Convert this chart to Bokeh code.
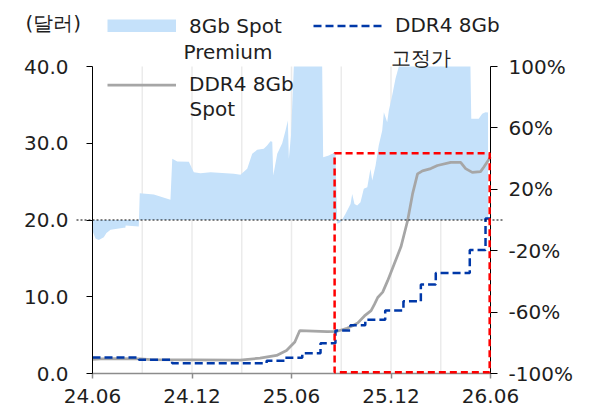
from bokeh.plotting import figure
from bokeh.models import (Range1d, LinearAxis, FixedTicker, BoxAnnotation,
                          Legend, LegendItem, Label)
from bokeh.embed import file_html
from bokeh.resources import INLINE

# ---------------- data (x = months since 2024-06) ----------------
premium_months = [0.0, 0.18, 0.38, 0.68, 0.84, 1.09, 1.49, 1.89, 1.98, 2.0, 2.79, 2.85, 3.70, 4.70,
                  4.81, 5.11, 5.81, 6.11, 6.51, 7.12, 8.52, 8.92, 9.33, 9.63, 9.93, 10.33, 10.53,
                  10.73, 10.84, 10.90, 11.14, 11.44, 11.64, 11.78, 11.84, 11.97, 12.14, 12.6, 13.2,
                  13.85, 13.91, 14.25, 14.45, 14.65, 14.76, 14.96, 15.26, 15.56, 15.66, 15.80, 15.96,
                  16.16, 16.36, 16.57, 16.76, 16.87, 17.07, 17.26, 17.47, 17.57, 17.77, 17.87, 18.07,
                  18.27, 18.47, 19.2, 20.0, 21.0, 22.0, 22.79, 22.84, 23.29, 23.50, 23.70, 23.85]
premium_pct = [-7, -12, -13, -11.2, -8.5, -6.4, -5.7, -5.1, -5.1, -3.6, -4.2, 17.5, 16.6, 13.2,
               39.9, 38.1, 38.0, 31.1, 30.5, 31.1, 30.1, 29.4, 33.4, 43.1, 45.7, 46.4, 48.5,
               51.3, 51.0, 29.0, 43.1, 50.0, 58.3, 64.8, 39.9, 55.0, 115, 130, 125,
               120, 40.9, 42.0, 43.1, 43.3, -2.5, -1.4, 4.0, 10.5, 17.0, 10.5, 9.4,
               11.6, 20.3, 21.4, 33.3, 25.7, 35.5, 48.5, 58.3, 70.2, 63.7, 71.3, 81.1,
               92.0, 115, 140, 160, 150, 135, 120, 65.9, 65.9, 69.2, 70.2, 70.0]

spot_months = [0.0, 0.5, 1.5, 2.9, 3.5, 6.0, 8.9, 10.1, 11.1, 11.7, 12.2, 12.5, 14.15, 14.75,
               15.35, 15.75, 16.0, 16.4, 16.8, 17.0, 17.2, 17.5, 17.8, 18.2, 18.6, 19.0, 19.3,
               19.6, 19.9, 20.4, 20.8, 21.6, 22.2, 22.5, 22.9, 23.4, 23.6, 24.0]
spot_usd = [1.85, 1.9, 1.95, 1.9, 1.8, 1.78, 1.75, 2.0, 2.35, 3.0, 4.1, 5.6, 5.45, 5.5,
            5.9, 6.3, 6.6, 7.5, 8.2, 9.0, 9.9, 10.6, 12.1, 14.3, 16.5, 19.9, 23.4,
            26.0, 26.4, 26.7, 27.1, 27.5, 27.5, 26.7, 26.2, 26.3, 26.9, 28.2]

fixed_months = [0.0, 2.8, 4.8, 10.5, 11.6, 12.65, 13.75, 14.65, 15.55, 16.45, 17.65, 18.75,
                19.8, 20.7, 22.75, 23.7, 24.0]
fixed_usd = [2.1, 1.78, 1.35, 1.65, 2.05, 2.65, 3.95, 5.6, 6.3, 7.0, 8.2, 9.4,
             11.6, 13.1, 16.1, 20.2, 20.2]

x_ticks = [0, 6, 12, 18, 24]
x_tick_labels = ["24.06", "24.12", "25.06", "25.12", "26.06"]
grid_months = [3, 6, 9, 12, 15, 18, 21]
left_ticks = [0, 10, 20, 30, 40]
left_tick_labels = ["0.0", "10.0", "20.0", "30.0", "40.0"]
right_ticks = [-100, -60, -20, 20, 60, 100]
right_tick_labels = ["-100%", "-60%", "-20%", "20%", "60%", "100%"]

unit_label = "(달러)"
premium_label = ["8Gb Spot", "Premium"]
spot_label = ["DDR4 8Gb", "Spot"]
fixed_label = ["DDR4 8Gb", "고정가"]

X_MIN, X_MAX = 0, 24          # months shown on the axis
Y_MIN, Y_MAX = 0, 40          # USD (left axis)
P_MIN, P_MAX = -100, 100      # % (right axis)
zero_premium_usd = 20         # left-axis value where the premium is 0%

# highlight box (months / USD)
box_left, box_right, box_bottom, box_top = 14.6, 23.95, 0.15, 28.7

# ---------------- layout (pixels) ----------------
W, H = 583, 415
AX_L, AX_R = 92, 490          # x of left / right axis lines
AX_T, AX_B = 66, 373          # y of 40.0 / 0.0
ppm = (AX_R - AX_L) / (X_MAX - X_MIN)
ppu = (AX_B - AX_T) / (Y_MAX - Y_MIN)
ratio = (P_MAX - P_MIN) / (Y_MAX - Y_MIN)
x_lo = X_MIN - AX_L / ppm
x_hi = X_MIN + (W - AX_L) / ppm
y_lo = Y_MIN - (H - AX_B) / ppu
y_hi = Y_MIN + AX_B / ppu
p_lo = P_MIN - (H - AX_B) / ppu * ratio
p_hi = P_MIN + AX_B / ppu * ratio

FONT = "DejaVu Sans"
FS = "20px"
TXT = "#1e1e1e"
NAN = float("nan")

p = figure(width=W, height=H, x_range=Range1d(x_lo, x_hi), y_range=Range1d(y_lo, y_hi),
           output_backend="svg", toolbar_location=None,
           min_border_left=0, min_border_right=0, min_border_top=0, min_border_bottom=0)
p.extra_y_ranges = {"pct": Range1d(p_lo, p_hi)}
p.outline_line_color = None
p.xgrid.visible = False
p.ygrid.visible = False

# vertical light grid lines, only over the axis span
p.segment(x0=grid_months, y0=[Y_MIN] * len(grid_months), x1=grid_months,
          y1=[Y_MAX] * len(grid_months), line_color="#ebebeb", line_width=1.5,
          level="underlay")


def style_axis(ax, tick_out, standoff, line_color="black", width=1):
    ax.axis_line_color = line_color
    ax.axis_line_width = width
    ax.major_tick_line_color = line_color
    ax.major_tick_line_width = width
    ax.major_tick_out = tick_out
    ax.major_tick_in = 0
    ax.minor_tick_line_color = None
    ax.major_label_standoff = standoff
    ax.major_label_text_font = FONT
    ax.major_label_text_font_size = FS
    ax.major_label_text_color = TXT


# x axis (pinned at 0 USD)
xa = p.xaxis[0]
xa.fixed_location = Y_MIN
xa.bounds = (X_MIN, X_MAX)
xa.ticker = FixedTicker(ticks=x_ticks)
xa.major_label_overrides = {t: l for t, l in zip(x_ticks, x_tick_labels)}
style_axis(xa, 5, 10, "#8c8c8c", 1.5)

# left axis (pinned at month 0)
ya = p.yaxis[0]
ya.fixed_location = X_MIN
ya.bounds = (Y_MIN, Y_MAX)
ya.ticker = FixedTicker(ticks=left_ticks)
ya.major_label_overrides = {t: l for t, l in zip(left_ticks, left_tick_labels)}
style_axis(ya, 6, 18)

# right axis (pinned at the last month)
ra = LinearAxis(y_range_name="pct", ticker=FixedTicker(ticks=right_ticks),
                fixed_location=X_MAX, bounds=(P_MIN, P_MAX))
ra.major_label_overrides = {t: l for t, l in zip(right_ticks, right_tick_labels)}
style_axis(ra, 7, 11)
p.add_layout(ra, "right")

# premium area is cut at the top of the % axis, as in the chart
premium_shown = [min(v, P_MAX) for v in premium_pct]
area = p.varea(x=premium_months, y1=0, y2=premium_shown, y_range_name="pct",
               fill_color="#C5E1FA")
spot = p.line(spot_months, spot_usd, line_color="#A6A6A6", line_width=2.75)
fixed = p.step(fixed_months, fixed_usd, mode="after", line_color="#0038A8",
               line_width=2.5, line_dash="8 4")
# legend swatch for the area (a flat band, as in the chart's legend); draws nothing itself
area_swatch = p.line(x=[NAN], y=[NAN], line_color="#C5E1FA", line_width=13,
                     line_cap="butt")

# dotted 0% line (runs a little past both axes)
p.segment(x0=[X_MIN - 16 / ppm], y0=[zero_premium_usd], x1=[X_MAX + 12 / ppm],
          y1=[zero_premium_usd], line_color="black", line_width=1, line_dash="2 2")

p.add_layout(BoxAnnotation(left=box_left, right=box_right, bottom=box_bottom, top=box_top,
                           fill_alpha=0, line_color="#FF0000", line_alpha=1,
                           line_width=2.5, line_dash="7 4"))

y_frame_bottom = H  # frame spans the whole canvas


def legend_at(text, renderer, gx, yc):
    return Legend(items=[LegendItem(label=text, renderers=[renderer])],
                  location=(gx, y_frame_bottom - yc - 12), orientation="vertical",
                  label_text_font=FONT, label_text_font_size=FS, label_text_color=TXT,
                  glyph_width=69, glyph_height=13, label_standoff=13, label_height=24,
                  spacing=0, padding=0, margin=0,
                  border_line_alpha=0, background_fill_alpha=0)


def text_at(text, x, yc):
    return Label(x=x, y=y_frame_bottom - yc, x_units="screen", y_units="screen", text=text,
                 text_font=FONT, text_font_size=FS, text_color=TXT,
                 text_baseline="middle", text_align="left")


p.add_layout(legend_at(premium_label[0], area_swatch, 107, 25.5))
p.add_layout(legend_at(spot_label[0], spot, 107, 84))
p.add_layout(legend_at(fixed_label[0], fixed, 313, 25))
p.add_layout(text_at(unit_label, 25, 22.5))
p.add_layout(text_at(premium_label[1], 183, 51))
p.add_layout(text_at(spot_label[1], 189, 108))
p.add_layout(text_at(fixed_label[1], 390, 57))

open("out.html", "w").write(file_html(p, INLINE))
